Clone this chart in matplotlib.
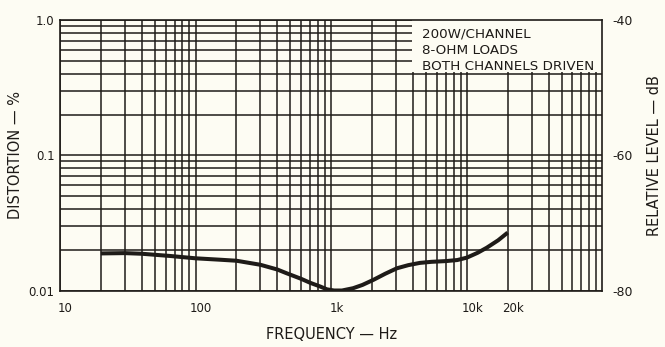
#! /usr/bin/env python3

import matplotlib
matplotlib.use("Agg")
import matplotlib.pyplot as plt
from matplotlib.patches import Rectangle
from matplotlib.ticker import LogLocator, NullFormatter
from matplotlib.transforms import ScaledTranslation

# THD vs frequency
freq = [20, 30, 40, 65, 100, 150, 200, 300, 400, 470, 600, 700, 830, 930,
        1050, 1200, 1450, 1700, 2050, 2500, 3050, 3700, 4500, 5500, 7000,
        8500, 10000, 12000, 14000, 17000, 20000]
dist = [0.0188, 0.0189, 0.0187, 0.0180, 0.0173, 0.0169, 0.0166, 0.0155,
        0.0143, 0.0134, 0.0122, 0.0114, 0.0107, 0.0102, 0.0100, 0.0100,
        0.0104, 0.0110, 0.0120, 0.0133, 0.0146, 0.0154, 0.0160, 0.0163,
        0.0165, 0.0168, 0.0175, 0.0190, 0.0207, 0.0235, 0.0268]

x_ticks = [10, 100, 1000, 10000, 20000]
x_labels = ["10", "100", "1k", "10k", "20k"]
y_ticks = [0.01, 0.1, 1.0]
y_labels = ["0.01", "0.1", "1.0"]
db_ticks = [-80, -60, -40]
db_labels = ["-80", "-60", "-40"]
notes = ["200W/CHANNEL", "8-OHM LOADS", "BOTH CHANNELS DRIVEN"]

ink = "#1e1b18"
paper = "#fdfcf3"

plt.rcParams["font.family"] = ["DejaVu Sans"]

fig = plt.figure(figsize=(6.65, 3.47), dpi=100, facecolor=paper)
ax = fig.add_axes([0.0902, 0.1628, 0.8158, 0.7796])
ax.set_facecolor(paper)
ax.set_xscale("log")
ax.set_yscale("log")
ax.set_xlim(10, 100000)
ax.set_ylim(0.01, 1.0)

ax.set_xticks(x_ticks)
ax.set_xticklabels(x_labels)
ax.set_yticks(y_ticks)
ax.set_yticklabels(y_labels)
for axis in (ax.xaxis, ax.yaxis):
    axis.set_minor_locator(LogLocator(base=10, subs=range(2, 10)))
    axis.set_minor_formatter(NullFormatter())

ax.set_axisbelow(True)
ax.grid(which="both", color=ink, linewidth=1.1)
for side in ax.spines.values():
    side.set_color(ink)
    side.set_linewidth(1.2)

# blank box for the test conditions
ax.add_patch(Rectangle((3950, 0.41), 100000, 1.0, facecolor=paper,
                       edgecolor="none", zorder=1))
for i, line in enumerate(notes):
    ax.text(0.668, 0.948 - i * 0.06, line, transform=ax.transAxes,
            fontsize=9.7, color=ink, va="center", ha="left", zorder=3)

ax.plot(freq, dist, color=ink, linewidth=2.9, solid_capstyle="butt",
        solid_joinstyle="round", zorder=2)

ax.tick_params(which="both", length=0, colors=ink, labelsize=8.5)
ax.tick_params(axis="x", pad=8)
ax.tick_params(axis="y", pad=4)
for lab in ax.get_xticklabels():
    lab.set_transform(lab.get_transform()
                      + ScaledTranslation(4 / 72, 0, fig.dpi_scale_trans))

ax.set_xlabel("FREQUENCY — Hz", fontsize=10.5, color=ink, labelpad=9)
ax.set_ylabel("DISTORTION — %", fontsize=10.5, color=ink, labelpad=4)

ax2 = ax.twinx()
ax2.set_ylim(-80, -40)
ax2.set_yticks(db_ticks)
ax2.set_yticklabels(db_labels)
ax2.tick_params(length=0, colors=ink, labelsize=9, pad=7)
for side in ax2.spines.values():
    side.set_visible(False)
ax2.set_ylabel("RELATIVE LEVEL — dB", fontsize=10.5, color=ink, labelpad=10)

plt.savefig("out.png", dpi=100, facecolor=paper)
